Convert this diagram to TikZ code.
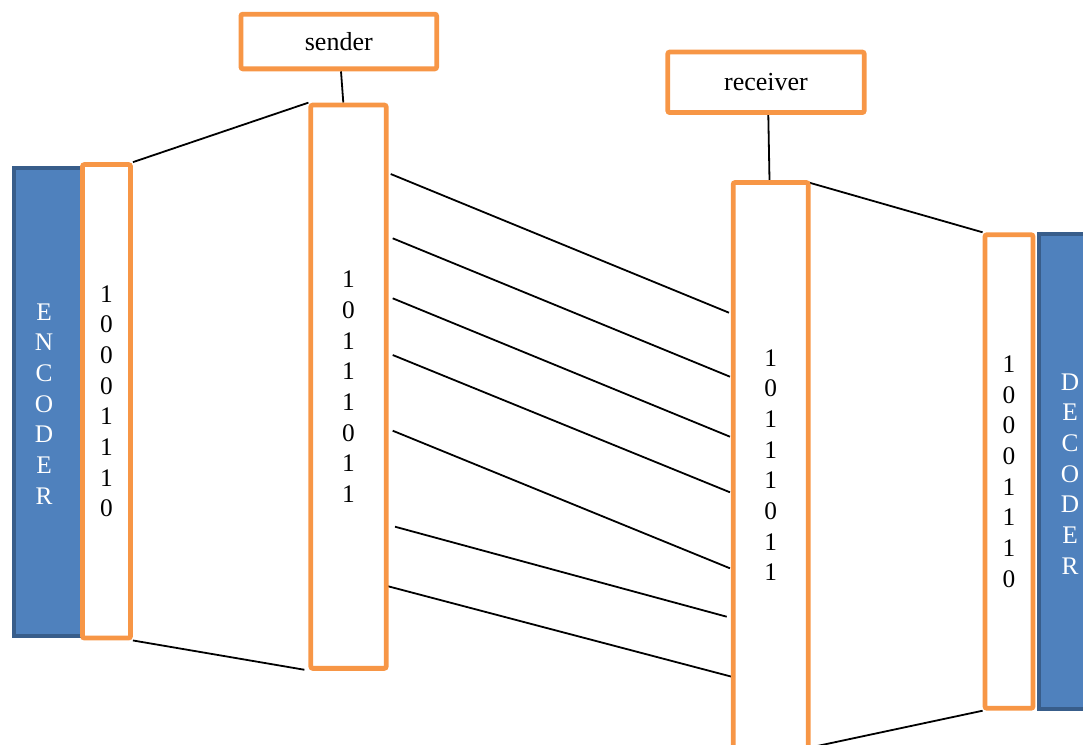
\documentclass[tikz,border=0pt]{standalone}
\usepackage{fontspec}
\setmainfont{Liberation Serif}
\usetikzlibrary{calc,backgrounds}
\definecolor{acorange}{HTML}{F79646}
\definecolor{acblue}{HTML}{4F81BD}
\definecolor{acblueline}{HTML}{385D8A}
\newcommand\bitfont{\fontsize{19}{23}\selectfont}
\newcommand\labfont{\fontsize{19.5}{23}\selectfont}
\begin{document}
\begin{tikzpicture}[x=0.75pt,y=-0.75pt,
  orangebox/.style={draw=acorange, line width=3.6pt, fill=white, rounded corners=1.5pt, inner sep=0pt, align=center, font=\bitfont},
  bluebox/.style={draw=acblueline, line width=3pt, fill=acblue, inner sep=0pt},
  size/.style 2 args={minimum width=#1*0.75pt, minimum height=#2*0.75pt},
  wire/.style={draw=black, line width=1.35pt},
  vlabel/.style={text=white, align=center, font=\bitfont, inner sep=0pt}]
\clip (0,0) rectangle (1083,744);
% encoder side
\node[bluebox, size={86}{468}] (encblue) at (57,402) {};
\node[vlabel] (enctext) at (44,404) {E\\N\\C\\O\\D\\E\\R};
\node[orangebox, size={48}{473.5}] (encbits) at (106.5,401.3) {1\\0\\0\\0\\1\\1\\1\\0};
% sender
\node[orangebox, size={195.7}{54.7}, font=\labfont] (sender) at (338.8,41.5) {sender};
\node[orangebox, size={75.4}{563.3}] (sendcol) at (348.5,386.7) {1\\0\\1\\1\\1\\0\\1\\1};
% receiver
\node[orangebox, size={196.4}{60.5}, font=\labfont] (receiver) at (766,82.3) {receiver};
\node[orangebox, size={75}{565.5}] (rcvcol) at (770.7,465.25) {1\\0\\1\\1\\1\\0\\1\\1};
% decoder side
\node[bluebox, size={71}{475}] (decblue) at (1074,471.5) {};
\node[vlabel] (dectext) at (1070,474) {D\\E\\C\\O\\D\\E\\R};
\node[orangebox, size={48}{473.6}] (decbits) at (1009,471.5) {1\\0\\0\\0\\1\\1\\1\\0};
% wire end points
\coordinate (l1) at (390.7,174);
\coordinate (l2) at (392.7,238.3);
\coordinate (l3) at (392.7,298.3);
\coordinate (l4) at (392.7,355);
\coordinate (l5) at (392.7,430.7);
\coordinate (l6) at (395,526.7);
\coordinate (l7) at (383.3,585);
\coordinate (r1) at (729,312.7);
\coordinate (r2) at (730,376.7);
\coordinate (r3) at (730,436.7);
\coordinate (r4) at (730,492.3);
\coordinate (r5) at (730,568.3);
\coordinate (r6) at (726.7,616.7);
\coordinate (r7) at (731.7,676.7);
\begin{scope}[on background layer]
\draw[wire] (encbits.north east) -- (sendcol.north west);
\draw[wire] (encbits.south east) -- ($(sendcol.south west)+(-4,-1)$);
\draw[wire] ($(sender.south)+(2.2,0)$) -- ($(sendcol.north)+(-5.2,0)$);
\draw[wire] ($(receiver.south)+(2.3,0)$) -- ($(rcvcol.north)+(-1.2,0)$);
\draw[wire] ($(rcvcol.north east)+(-1.5,2.5)$) -- (decbits.north west);
\draw[wire] ($(rcvcol.south east)+(0,-3)$) -- (decbits.south west);
\foreach \i in {1,...,7} {\draw[wire] (l\i) -- (r\i);}
\end{scope}
\end{tikzpicture}
\end{document}
